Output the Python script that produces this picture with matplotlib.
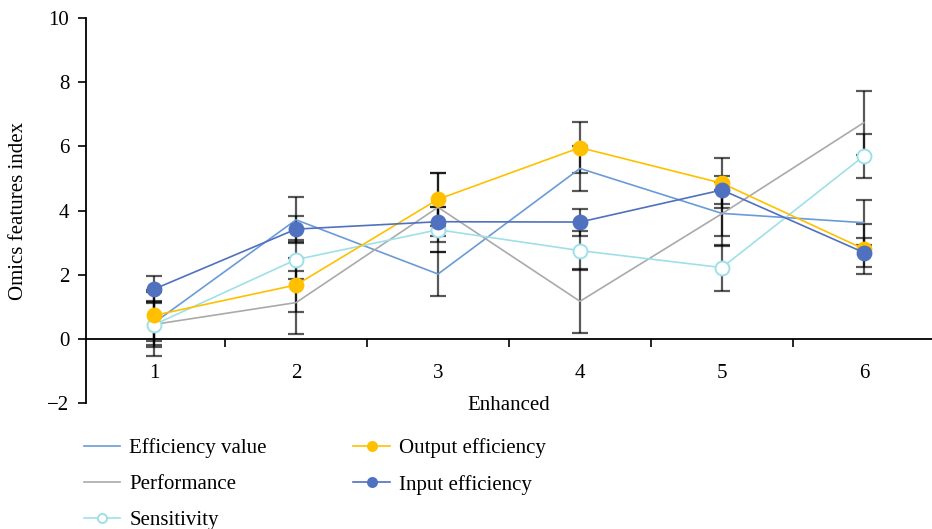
import matplotlib
matplotlib.use("Agg")
import matplotlib.pyplot as plt
from matplotlib.ticker import FixedLocator

x = [1, 2, 3, 4, 5, 6]

efficiency_value = [0.50, 3.71, 2.02, 5.31, 3.91, 3.62]
efficiency_err = [0.68, 0.70, 0.68, 0.69, 0.72, 0.70]

performance = [0.45, 1.13, 4.10, 1.17, 3.90, 6.74]
performance_err = [1.00, 0.98, 1.08, 1.00, 1.00, 1.00]

sensitivity = [0.44, 2.47, 3.40, 2.75, 2.22, 5.70]
sensitivity_err = [0.70, 0.60, 0.70, 0.62, 0.72, 0.70]

output_efficiency = [0.73, 1.68, 4.35, 5.96, 4.85, 2.80]
output_err = [0.80, 0.83, 0.83, 0.80, 0.78, 0.78]

input_efficiency = [1.55, 3.42, 3.65, 3.64, 4.64, 2.69]
input_err = [0.42, 0.42, 0.45, 0.42, 0.44, 0.44]

plt.rcParams["font.family"] = ["Liberation Serif", "DejaVu Serif"]
plt.rcParams["font.size"] = 15

fig = plt.figure(figsize=(9.32, 5.29), dpi=100)
ax = fig.add_axes([86 / 932, 1 - 403 / 529, 1 - 86 / 932, 385 / 529])

series = [
    ("Efficiency value", efficiency_value, efficiency_err, "#6a9bd8", None, None),
    ("Performance", performance, performance_err, "#aaaaaa", None, None),
    ("Sensitivity", sensitivity, sensitivity_err, "#9fe0e8", "o", "white"),
    ("Output efficiency", output_efficiency, output_err, "#ffc000", "o", "#ffc000"),
    ("Input efficiency", input_efficiency, input_err, "#4f71bf", "o", "#4f71bf"),
]

for name, vals, err, color, marker, face in series:
    ax.errorbar(x, vals, yerr=err, fmt="none", ecolor="black", alpha=0.65,
                elinewidth=1.6, capsize=6, capthick=1.6, zorder=2)

handles = []
for name, vals, err, color, marker, face in series:
    line, = ax.plot(x, vals, color=color, lw=1.2, marker=marker,
                    markersize=10, markerfacecolor=face, markeredgecolor=color,
                    markeredgewidth=1.4, label=name, zorder=4)
    handles.append(line)

ax.set_xlim(0.52, 6.48)
ax.set_ylim(-2, 10)
ax.set_yticks([-2, 0, 2, 4, 6, 8, 10])
ax.set_yticklabels(["\u22122", "0", "2", "4", "6", "8", "10"])
ax.set_xticks(x)
ax.xaxis.set_minor_locator(FixedLocator([1.5, 2.5, 3.5, 4.5, 5.5]))
ax.tick_params(axis="x", which="major", length=0, pad=18)
ax.tick_params(axis="x", which="minor", length=6, width=1.2, direction="out")
ax.tick_params(axis="y", length=6, width=1.2, direction="out", pad=6)

for side in ("top", "right"):
    ax.spines[side].set_visible(False)
ax.spines["bottom"].set_position(("data", 0))
ax.spines["bottom"].set_linewidth(1.3)
ax.spines["left"].set_linewidth(1.3)

ax.set_xlabel("Enhanced")
ax.xaxis.set_label_coords(0.5, 0.018)
ax.set_ylabel("Omics features index")
ax.yaxis.set_label_coords(-0.068, 0.50)

fig.legend(handles=handles, loc="upper left", bbox_to_anchor=(69 / 932, 1 - 424 / 529),
           ncol=2, frameon=False, handlelength=1.75, handletextpad=0.45,
           columnspacing=4.15, labelspacing=0.78, markerscale=0.65, fontsize=15,
           borderaxespad=0.3)

fig.savefig("out.png", dpi=100)
